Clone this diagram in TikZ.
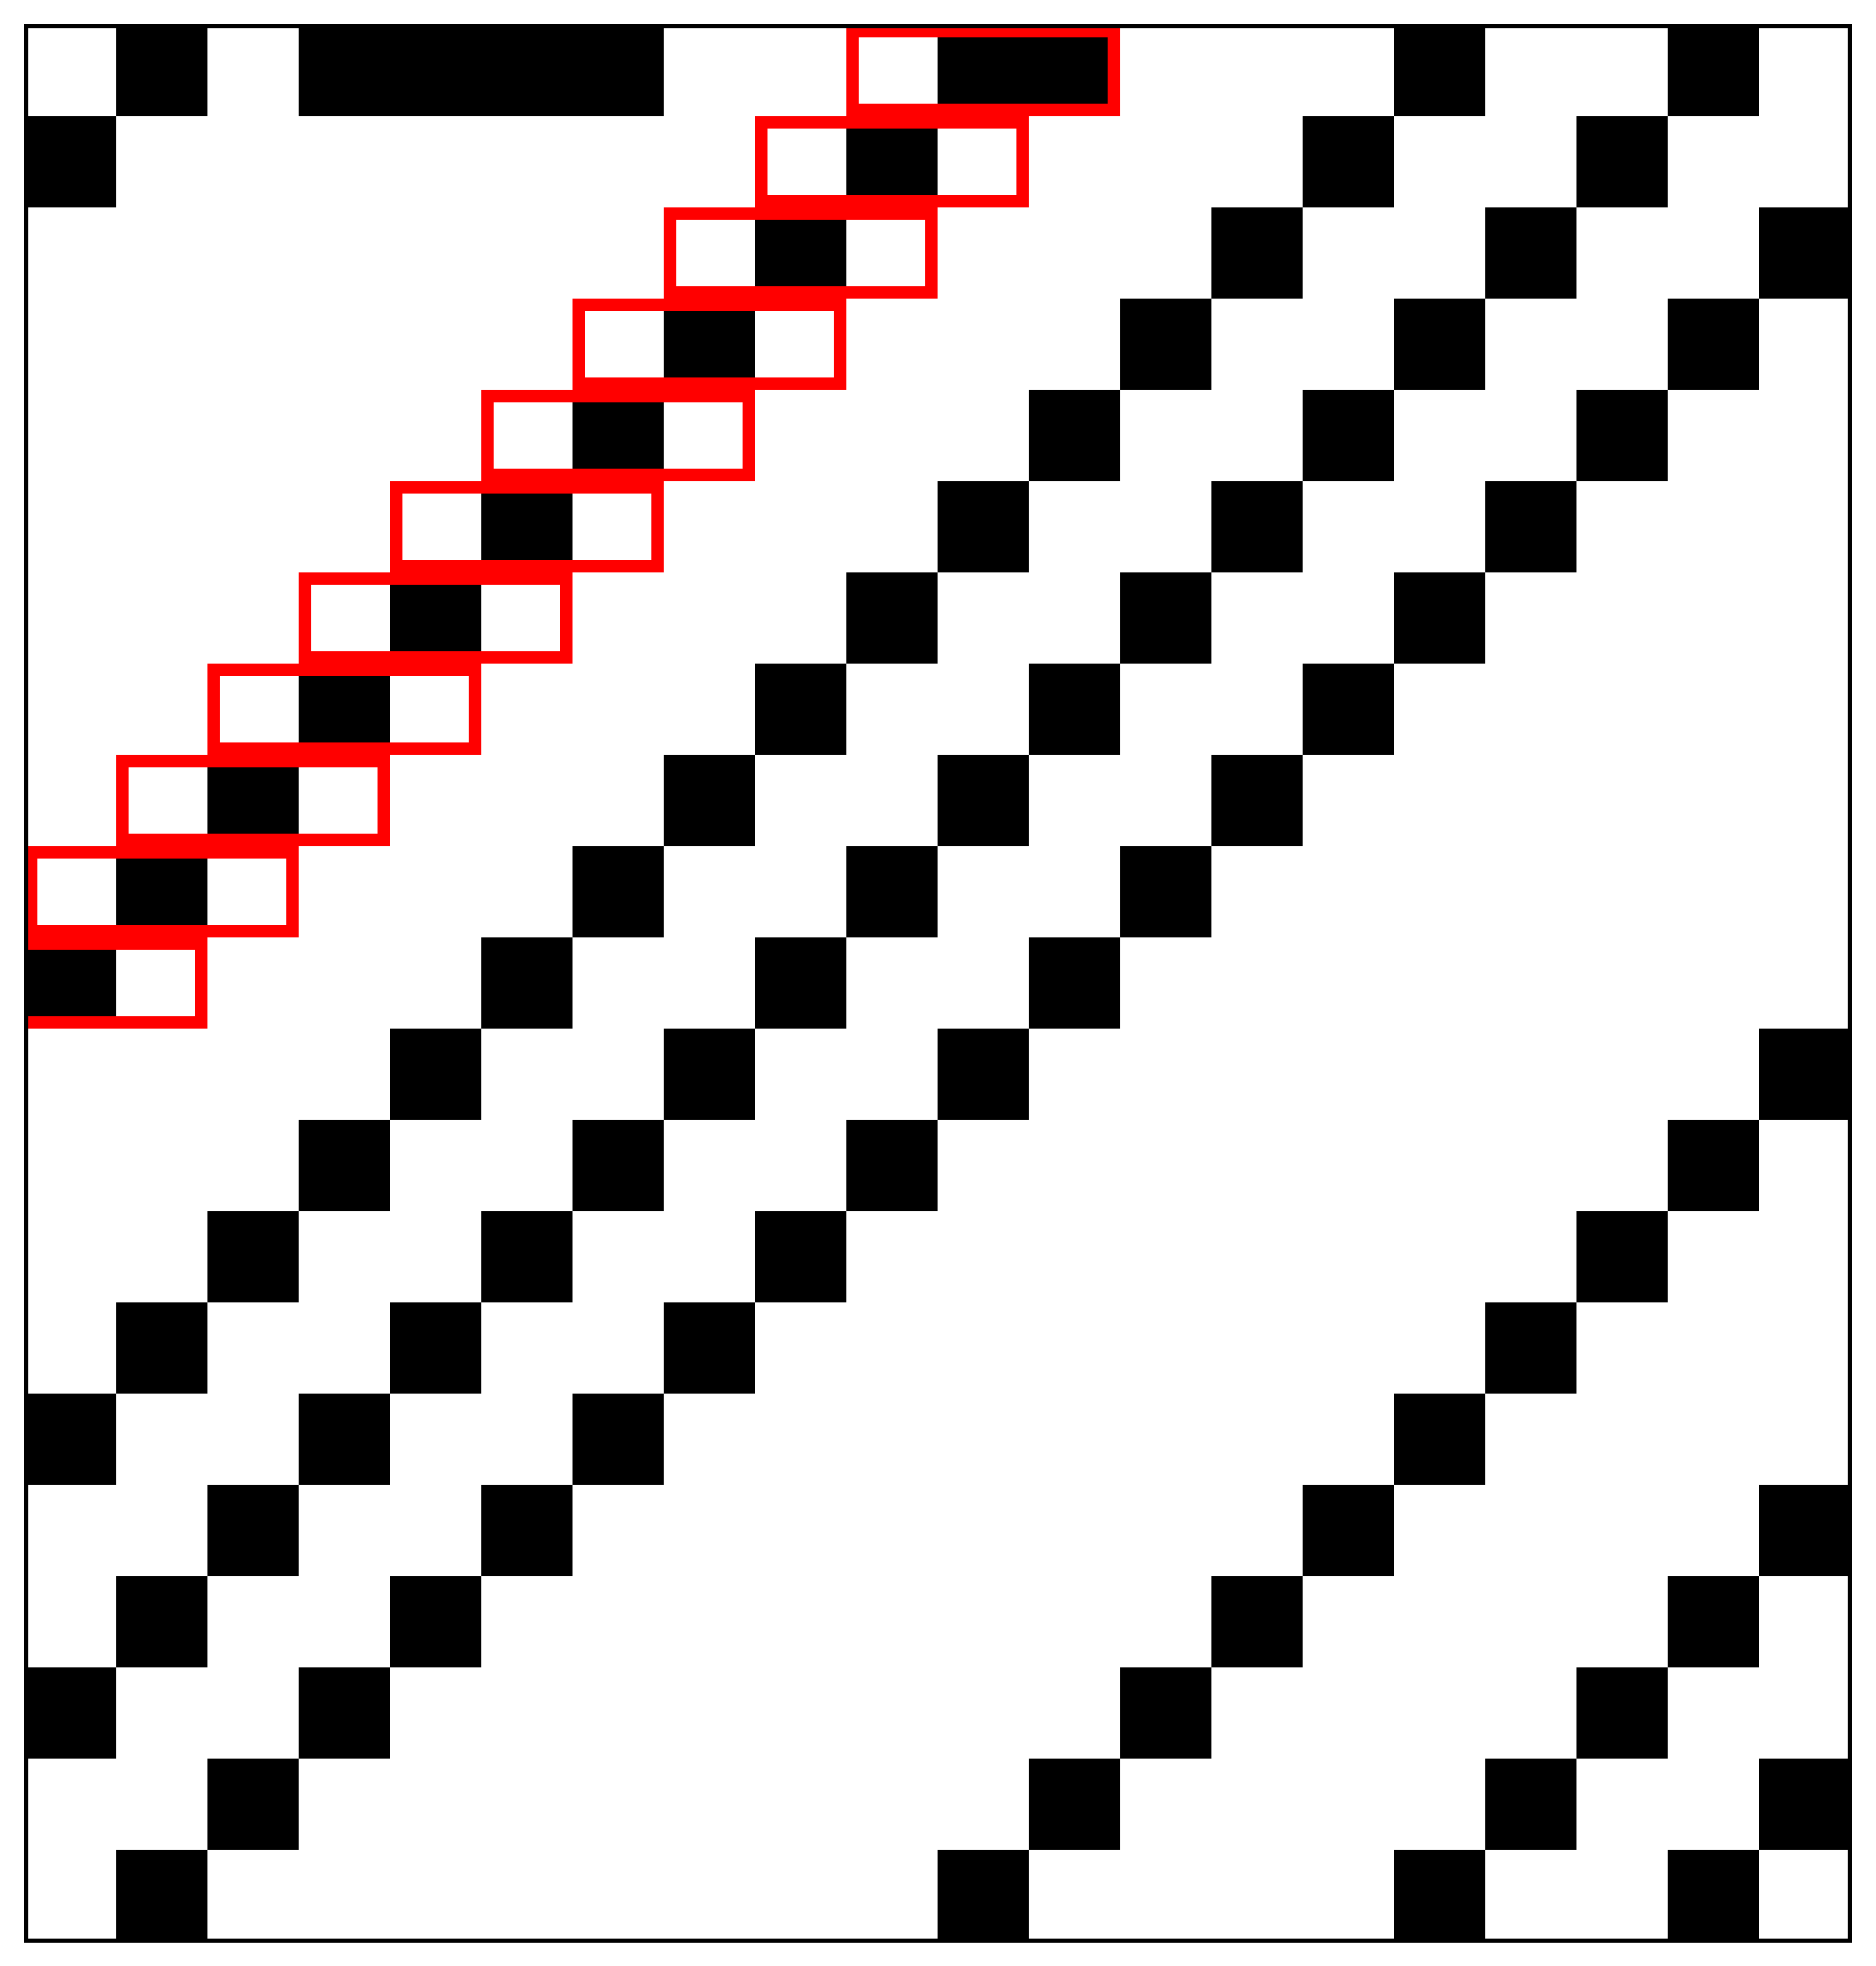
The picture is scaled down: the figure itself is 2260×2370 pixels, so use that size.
\documentclass[tikz,border=0pt]{standalone}
\begin{document}
\begin{tikzpicture}[x=0.1mm,y=-0.1mm,
  cell/.style={fill=black},
  redbox/.style={draw=red,line width=1.5mm},
  frame/.style={draw=black,line width=0.5mm}]
\useasboundingbox[fill=white] (0,0) rectangle (2260,2370);
\foreach \r/\cl in {
  0/{1,3,4,5,6,10,11,15,18},
  1/{0,9,14,17},
  2/{8,13,16,19},
  3/{7,12,15,18},
  4/{6,11,14,17},
  5/{5,10,13,16},
  6/{4,9,12,15},
  7/{3,8,11,14},
  8/{2,7,10,13},
  9/{1,6,9,12},
  10/{0,5,8,11},
  11/{4,7,10,19},
  12/{3,6,9,18},
  13/{2,5,8,17},
  14/{1,4,7,16},
  15/{0,3,6,15},
  16/{2,5,14,19},
  17/{1,4,13,18},
  18/{0,3,12,17},
  19/{2,11,16,19},
  20/{1,10,15,18}}{
  \foreach \c in \cl {
    \fill[cell] ({30+110*\c},{30+110*\r}) rectangle ({140+110*\c},{140+110*\r});
  }
}
\begin{scope}
\clip (30,30) rectangle (2230,2340);
\foreach \r in {0,...,10}{
  \draw[redbox] ({30+110*(9-\r)+7.5},{30+110*\r+7.5}) rectangle ({30+110*(12-\r)-7.5},{30+110*(\r+1)-7.5});
}
\end{scope}
\draw[frame] (31.5,31.5) rectangle (2229,2339);
\end{tikzpicture}
\end{document}
